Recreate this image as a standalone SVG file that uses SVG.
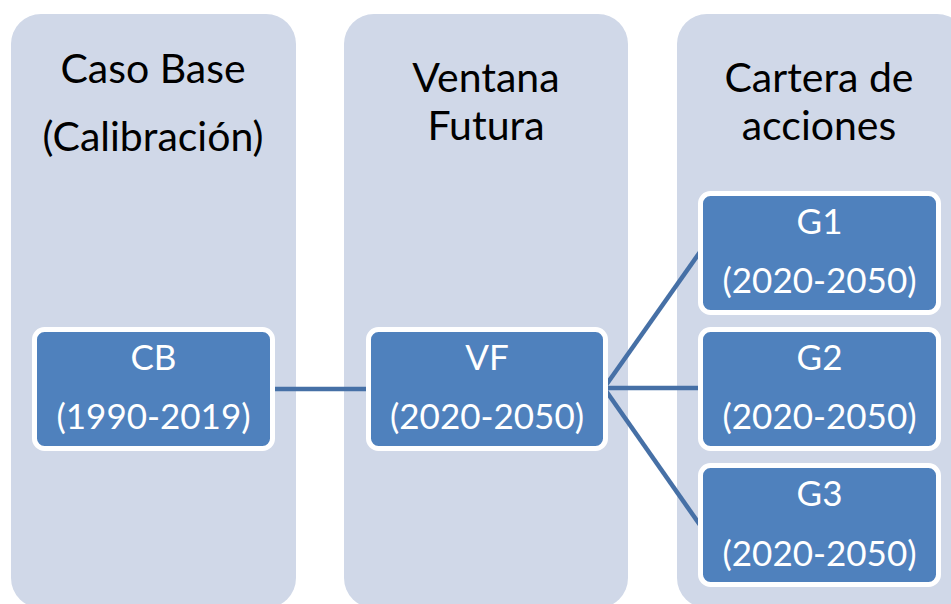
<svg xmlns="http://www.w3.org/2000/svg" width="951" height="604" viewBox="0 0 951 604">
<style>
.col{fill:#d0d8e8}
.hdr{font-family:Lato,"Open Sans",sans-serif;font-size:41px;fill:#000;text-anchor:middle}
.box{fill:#4f81bd;stroke:#fff;stroke-width:5}
.lbl{font-family:Lato,"Open Sans",sans-serif;font-size:35px;fill:#fff;text-anchor:middle}
.con{stroke:#4670a6;stroke-width:4.5;fill:none}
</style>
<rect width="951" height="604" fill="#fff"/>
<g id="col-base">
<rect class="col" x="11" y="14" width="285" height="594" rx="30"/>
<text class="hdr" x="153" y="83">Caso Base</text>
<text class="hdr" x="153" y="151">(Calibración)</text>
</g>
<g id="col-ventana">
<rect class="col" x="344" y="14" width="284" height="594" rx="30"/>
<text class="hdr" x="486" y="92">Ventana</text>
<text class="hdr" x="486" y="140">Futura</text>
</g>
<g id="col-cartera">
<rect class="col" x="677" y="14" width="290" height="594" rx="30"/>
<text class="hdr" x="819" y="92">Cartera de</text>
<text class="hdr" x="819" y="140">acciones</text>
</g>
<g id="connectors">
<line class="con" x1="273" y1="389" x2="368" y2="389"/>
<line class="con" x1="604" y1="388" x2="700" y2="252"/>
<line class="con" x1="604" y1="388" x2="700" y2="388"/>
<line class="con" x1="604" y1="388" x2="700" y2="525"/>
</g>
<g id="node-cb">
<rect class="box" x="34.5" y="329.5" width="238" height="119" rx="10"/>
<text class="lbl" x="153.5" y="370">CB</text>
<text class="lbl" x="153.5" y="429">(1990-2019)</text>
</g>
<g id="node-vf">
<rect class="box" x="368.5" y="329.5" width="237" height="119" rx="10"/>
<text class="lbl" x="487" y="370">VF</text>
<text class="lbl" x="487" y="429">(2020-2050)</text>
</g>
<g id="node-g1">
<rect class="box" x="700.5" y="193.5" width="238" height="119" rx="10"/>
<text class="lbl" x="819.5" y="234">G1</text>
<text class="lbl" x="819.5" y="293">(2020-2050)</text>
</g>
<g id="node-g2">
<rect class="box" x="700.5" y="329.5" width="238" height="119" rx="10"/>
<text class="lbl" x="819.5" y="370">G2</text>
<text class="lbl" x="819.5" y="429">(2020-2050)</text>
</g>
<g id="node-g3">
<rect class="box" x="700.5" y="465.5" width="238" height="119" rx="10"/>
<text class="lbl" x="819.5" y="506">G3</text>
<text class="lbl" x="819.5" y="566">(2020-2050)</text>
</g>
</svg>
